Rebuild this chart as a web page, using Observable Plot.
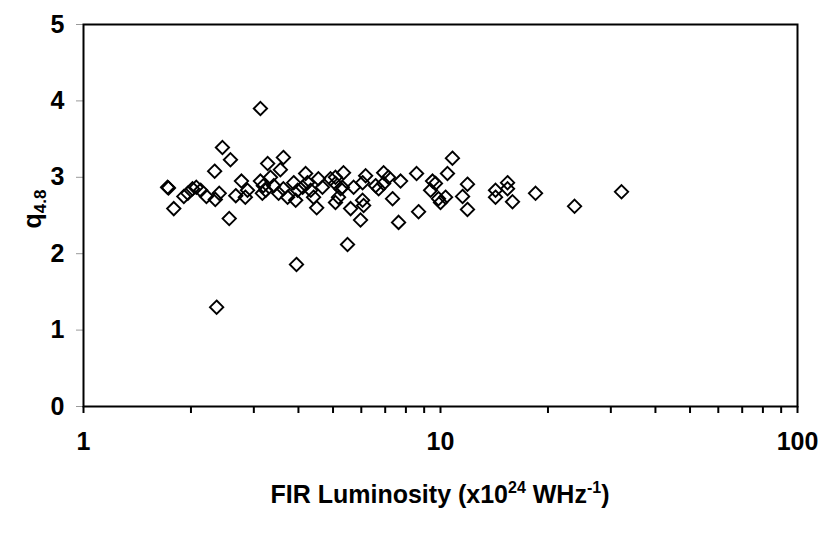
<!DOCTYPE html>
<html>
<head>
<meta charset="utf-8">
<script src="https://cdn.jsdelivr.net/npm/d3@7"></script>
<script src="https://cdn.jsdelivr.net/npm/@observablehq/plot@0.6"></script>
<style>
  html, body { margin: 0; padding: 0; background: #fff; }
  #chart { width: 830px; height: 535px; }
  svg { font-family: "Liberation Sans", Arial, sans-serif; }
</style>
</head>
<body>
<div id="chart"></div>
<script>
// FIR luminosity (x10^24 W/Hz) and q4.8 values
const lum = [
  1.72, 1.73, 1.79, 1.91, 1.96, 2.02, 2.07, 2.13, 2.21, 2.34,
  2.40, 2.33, 2.45, 2.58, 2.56, 2.36, 2.67, 2.77, 2.84, 2.88,
  3.13, 3.28, 3.63, 3.56, 3.13, 3.19, 3.17, 3.24, 3.34, 3.41,
  3.52, 3.63, 3.73, 3.88, 3.93, 3.98, 4.11, 4.19, 4.24, 4.33,
  4.41, 4.50, 4.55, 4.67, 4.92, 5.08, 5.18, 5.31, 5.35, 3.95,
  5.49, 5.08, 6.17, 6.93, 7.15, 7.73, 8.57, 10.46, 11.90, 5.08,
  5.25, 5.71, 6.05, 6.58, 6.71, 6.93, 5.60, 5.97, 6.05, 6.09,
  7.34, 7.63, 8.68, 9.50, 9.68, 9.38, 9.87, 10.33, 10.0, 11.53,
  11.90, 10.80, 14.26, 14.26, 15.41, 15.41, 15.91, 18.46, 23.74, 32.14
];
const q48 = [
  2.87, 2.86, 2.59, 2.75, 2.79, 2.85, 2.87, 2.83, 2.75, 2.71,
  2.79, 3.08, 3.39, 3.23, 2.46, 1.30, 2.76, 2.95, 2.74, 2.83,
  3.90, 3.18, 3.26, 3.10, 2.95, 2.89, 2.79, 2.83, 3.00, 2.89,
  2.79, 2.85, 2.74, 2.93, 2.70, 2.83, 2.87, 3.05, 2.93, 2.83,
  2.74, 2.60, 2.98, 2.87, 2.98, 2.67, 2.74, 2.87, 3.06, 1.86,
  2.12, 3.00, 3.02, 3.06, 3.00, 2.95, 3.05, 3.05, 2.91, 2.92,
  2.85, 2.87, 2.93, 2.89, 2.85, 2.92, 2.59, 2.44, 2.70, 2.63,
  2.72, 2.41, 2.55, 2.95, 2.92, 2.83, 2.72, 2.74, 2.67, 2.75,
  2.58, 3.25, 2.83, 2.74, 2.93, 2.85, 2.68, 2.79, 2.62, 2.81
];
const yTicks = [0, 1, 2, 3, 4, 5];
const xLabelTicks = [1, 10, 100];
const xMinorTicks = [1,2,3,4,5,6,7,8,9,10,20,30,40,50,60,70,80,90,100];

const data = lum.map((l, i) => ({lum: l, q: q48[i]}));

const W = 830, H = 535;
const mL = 83, mR = 33, mT = 24, mB = 129;

const chart = Plot.plot({
  width: W,
  height: H,
  marginLeft: mL,
  marginRight: mR,
  marginTop: mT,
  marginBottom: mB,
  style: {fontFamily: "'Liberation Sans', Arial, sans-serif", background: "white", color: "black"},
  x: {type: "log", domain: [1, 100]},
  y: {domain: [0, 5]},
  marks: [
    Plot.axisY(yTicks, {
      tickSize: 7, tickPadding: 12, stroke: "#9a9a9a", strokeWidth: 1,
      fill: "black", fontSize: 25, fontWeight: "bold", label: null,
      tickFormat: d => String(d)
    }),
    Plot.axisX(xMinorTicks, {
      tickSize: 7, strokeWidth: 2, stroke: "black", tickFormat: () => "", label: null
    }),
    Plot.axisX(xLabelTicks, {
      tickSize: 0, tickPadding: 26, fill: "black", fontSize: 25, fontWeight: "bold",
      label: null, tickFormat: d => String(d)
    }),
    Plot.frame({stroke: "black", strokeWidth: 2}),
    Plot.dot(data, {
      x: "lum", y: "q", symbol: "diamond2", r: 6,
      stroke: "black", strokeWidth: 1.9, fill: "none"
    })
  ]
});

const svg = d3.select(chart);
// X axis title with superscripts
const xt = svg.append("text")
  .attr("x", (mL + (W - mR)) / 2)
  .attr("y", 503)
  .attr("text-anchor", "middle")
  .attr("font-size", 25)
  .attr("font-weight", "bold")
  .attr("fill", "black");
xt.append("tspan").text("FIR Luminosity (x10");
xt.append("tspan").attr("font-size", 16).attr("dy", -10).text("24");
xt.append("tspan").attr("dy", 10).text(" WHz");
xt.append("tspan").attr("font-size", 16).attr("dy", -10).text("-1");
xt.append("tspan").attr("dy", 10).text(")");

// Y axis title with subscript
const yt = svg.append("text")
  .attr("transform", `translate(41, ${(mT + (H - mB)) / 2 - 6}) rotate(-90)`)
  .attr("text-anchor", "middle")
  .attr("font-size", 25)
  .attr("font-weight", "bold")
  .attr("fill", "black");
yt.append("tspan").text("q");
yt.append("tspan").attr("font-size", 17).attr("dy", 5).text("4.8");

document.getElementById("chart").appendChild(chart);
</script>
</body>
</html>
